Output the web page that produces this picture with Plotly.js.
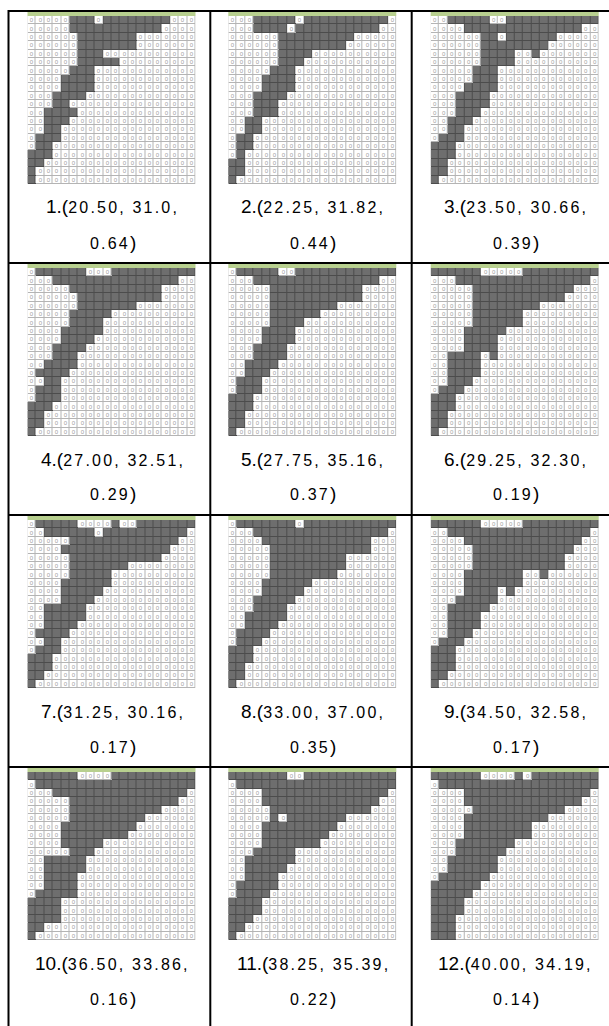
<!DOCTYPE html>
<html>
<head>
<meta charset="utf-8">
<script src="https://cdn.plot.ly/plotly-3.0.1.min.js"></script>
<style>html,body{margin:0;padding:0;background:#fff;}#chart{width:609px;height:1026px;}</style>
</head>
<body>
<div id="chart"></div>
<script>
// ---- data: 20x20 density maps, '#' = solid (1), '.' = void (0) ----
const grid1 = [
".....###.########...",
".....###########....",
"......#######.......",
"......#######.......",
"......###...........",
"......#####.........",
".....###............",
"....####............",
"....####............",
"...####.............",
"...##...............",
"..####..............",
"..###...............",
"..##................",
".###................",
".##.................",
"###.................",
"##..................",
"#...................",
"#..................."
];
const grid2 = [
"...#####.##########.",
"...####.##########..",
"......#########.....",
"......########......",
"......####..........",
"......###...........",
".....###............",
"....####............",
"....####............",
"...####.............",
"...###..............",
"...###..............",
"..##................",
"..##................",
".##.................",
".##.................",
".#..................",
"##..................",
"##..................",
"#..................."
];
const grid3 = [
"..#####..###########",
"....##############..",
"......##.######.....",
"......########......",
"......####..#.......",
"......####..........",
".....###............",
".....###............",
"....####............",
"...####.............",
"...####.............",
"...###..............",
"..###...............",
"..##................",
".###................",
"###.................",
"###.................",
"##..................",
"##..................",
"#..................."
];
const grid4 = [
".######...##########",
"...###############..",
".....###########....",
"......##########....",
"......#######.......",
".....#####..........",
".....####...........",
"....#####...........",
"....####............",
"...####.............",
"...###..............",
"..####..............",
".####...............",
"..##................",
".###................",
".###................",
"###.................",
"##..................",
"##..................",
"#..................."
];
const grid5 = [
".#####..############",
"...###############..",
".....###########....",
".....###########....",
".....########.......",
".....######.........",
".....####...........",
"....####............",
"....####............",
"...####.............",
"...####.............",
"..####..............",
"..###...............",
".###................",
".###................",
"###.................",
"###.................",
"##..................",
"##..................",
"#..................."
];
const grid6 = [
"######.....#########",
"...################.",
".....############...",
".....###########....",
".....########.......",
".....######.........",
".....######.........",
"....#####...........",
"....####............",
"....####............",
"..####.#............",
"..####..............",
"..####..............",
"..###...............",
".###................",
"###.................",
"###.................",
"##..................",
"##..................",
"#..................."
];
const grid7 = [
".#####....#..#######",
"..######.##########.",
".....#############..",
"....#############...",
".....###########....",
".....#######........",
".....#####..........",
"....######..........",
"....#####...........",
"....####............",
"..#####.............",
"..#####.............",
"..####..............",
".####...............",
"..##................",
".###................",
"###.................",
"###.................",
"##..................",
"#..................."
];
const grid8 = [
".#######.###########",
"...################.",
"....#############...",
".....############...",
".....#########......",
".....#########......",
".....########.......",
"....######..........",
"....#####...........",
"...#####............",
"...####.............",
"..#####.............",
"..####..............",
".####...............",
".###................",
"###.................",
"###.................",
"##..................",
"##..................",
"#..................."
];
const grid9 = [
"######.....#########",
"..#################.",
"....##############..",
".....############...",
".....###########....",
".....###########....",
"....#######..#......",
"....#######.........",
"....####.#..........",
"...#####............",
"..#####.............",
"..####..............",
"..####..............",
"..###...............",
".###................",
"###.................",
"###.................",
"###.................",
"##..................",
"#..................."
];
const grid10 = [
"######....##########",
".###################",
"...################.",
".....#############..",
".....###########....",
".....#########......",
"....#########.......",
"....########........",
"....#####...........",
".....###............",
"..#####.............",
"..#####.............",
"..####..............",
"..####..............",
".#####..............",
"####................",
"####................",
"####................",
"##..................",
"#..................."
];
const grid11 = [
"#######..###########",
".###################",
"....###############.",
"....##############..",
".....############...",
".....#.#######......",
"....#########.......",
"....########........",
"....#######.........",
"...#####............",
"..######............",
"..#####.............",
"..####..............",
".#####..............",
".####...............",
"####................",
"####................",
"###.................",
"##..................",
"#..................."
];
const grid12 = [
"######....#.########",
".###################",
"....###############.",
"....##############..",
".....###########....",
"....##########......",
"....########........",
"....########........",
"...#######..........",
"...######...........",
"..######............",
"..######............",
".######.............",
"######..............",
"#####...............",
"####................",
"####................",
"###.................",
"###.................",
"###................."
];
const caseIds = ["1","2","3","4","5","6","7","8","9","10","11","12"];
const valA = ["20.50","22.25","23.50","27.00","27.75","29.25","31.25","33.00","34.50","36.50","38.25","40.00"];
const valB = ["31.0","31.82","30.66","32.51","35.16","32.30","30.16","37.00","32.58","33.86","35.39","34.19"];
const valC = ["0.64","0.44","0.39","0.29","0.37","0.19","0.17","0.35","0.17","0.16","0.22","0.14"];

// ---- layout constants ----
const W = 609, H = 1026;
const grids = [grid1,grid2,grid3,grid4,grid5,grid6,grid7,grid8,grid9,grid10,grid11,grid12];
const colLeft = [8.5, 210.3, 411.7];
const gridOffX = [19, 18, 19];
const gridW = 168, gridH = 168;
const rowPitch = 252, firstLine = 11;
const px = v => v / W;
const py = v => 1 - v / H;

const data = [];
const layout = {
  width: W, height: H,
  margin: {l:0, r:0, t:0, b:0, pad:0},
  paper_bgcolor: '#ffffff', plot_bgcolor: 'rgba(0,0,0,0)',
  showlegend: false,
  shapes: [], annotations: []
};

grids.forEach((g, i) => {
  const col = i % 3, row = Math.floor(i / 3);
  const lineY = firstLine + rowPitch * row;
  const x0 = colLeft[col] + gridOffX[col];
  const y0 = lineY + 5;
  const sfx = i === 0 ? '' : String(i + 1);
  layout['xaxis' + sfx] = {domain: [px(x0), px(x0 + gridW)], range: [-0.5, 19.5], visible: false, fixedrange: true, anchor: 'y' + sfx};
  layout['yaxis' + sfx] = {domain: [py(y0 + gridH), py(y0)], range: [19.5, -0.5], visible: false, fixedrange: true, anchor: 'x' + sfx};
  const z = g.map(r => r.split('').map(ch => ch === '#' ? 1 : 0));
  const txt = g.map(r => r.split('').map(ch => ch === '#' ? '' : '0'));
  // border layer (line colour shows through gaps)
  data.push({type: 'heatmap', z: z, xaxis: 'x' + sfx, yaxis: 'y' + sfx,
    colorscale: [[0, '#b4b4b4'], [1, '#4c4c4c']], zmin: 0, zmax: 1, showscale: false, hoverinfo: 'skip'});
  // cell layer
  data.push({type: 'heatmap', z: z, xaxis: 'x' + sfx, yaxis: 'y' + sfx,
    colorscale: [[0, '#ffffff'], [1, '#6e6e6e']], zmin: 0, zmax: 1, showscale: false,
    xgap: 1, ygap: 1, text: txt, texttemplate: '%{text}',
    textfont: {family: 'Liberation Sans', size: 6, color: '#a0a0a0'}, hoverinfo: 'skip'});
  // green load bar
  layout.shapes.push({type: 'rect', xref: 'paper', yref: 'paper',
    x0: px(x0), x1: px(x0 + gridW), y0: py(lineY + 1), y1: py(lineY + 5),
    fillcolor: '#b8d08f', line: {width: 0}});
  // captions
  const cx = px(x0 + gridW / 2 + 1);
  layout.annotations.push({xref: 'paper', yref: 'paper', x: cx, y: py(lineY + 196),
    xanchor: 'center', yanchor: 'middle', showarrow: false,
    font: {family: 'Liberation Sans', size: 16, color: '#000'},
    text: '<span style="font-size:19px">' + caseIds[i] + '.(</span><span style="font-size:16px;letter-spacing:2.2px">' + valA[i] + ', ' + valB[i] + ',</span>'});
  layout.annotations.push({xref: 'paper', yref: 'paper', x: cx, y: py(lineY + 231),
    xanchor: 'center', yanchor: 'middle', showarrow: false,
    font: {family: 'Liberation Sans', size: 16, color: '#000'},
    text: '<span style="font-size:16px;letter-spacing:2.2px">' + valC[i] + '</span><span style="font-size:19px">)</span>'});
});

// table rules
for (let r = 0; r < 4; r++) {
  const y = firstLine + rowPitch * r;
  layout.shapes.push({type: 'line', xref: 'paper', yref: 'paper', x0: px(8), x1: px(W + 5), y0: py(y), y1: py(y), line: {color: '#000', width: 2}});
}
colLeft.forEach(x => {
  layout.shapes.push({type: 'line', xref: 'paper', yref: 'paper', x0: px(x), x1: px(x), y0: py(10), y1: py(H + 5), line: {color: '#000', width: 2}});
});

Plotly.newPlot('chart', data, layout, {displayModeBar: false, staticPlot: true});
</script>
</body>
</html>
